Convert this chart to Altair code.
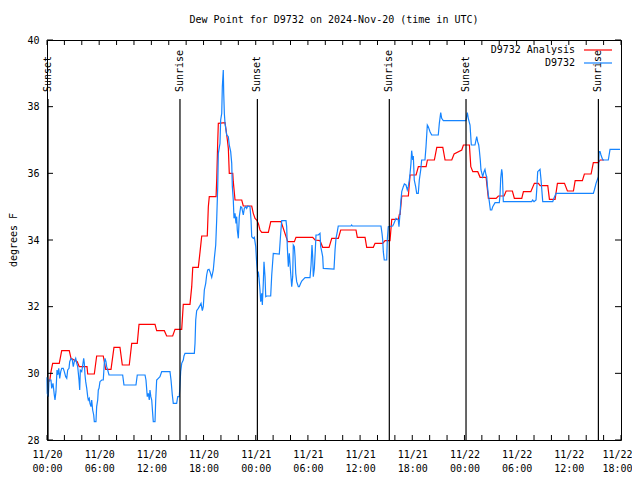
import altair as alt
import pandas as pd

START = pd.Timestamp("2024-11-20T00:00:00Z")
START_MS = int(START.value // 10**6)
H_MS = 3600 * 1000

title_text = "Dew Point for D9732 on 2024-Nov-20 (time in UTC)"
series_names = ["D9732 Analysis", "D9732"]
series_colors = ["#ff0000", "#1584ff"]

# Analysis (red) series: hours since 11/20 00:00 UTC, degrees F
analysis_hours = [0.30, 0.46, 0.65, 1.41, 1.69, 2.56, 2.76, 3.48, 3.71, 4.60, 4.68, 5.44, 5.71, 6.47,
                  6.75, 7.36, 7.70, 8.39, 8.66, 9.46, 9.74, 10.38, 10.58, 12.42, 12.61, 13.49, 13.76,
                  14.45, 14.72, 15.49, 15.67, 16.44, 16.64, 16.76, 17.40, 17.60, 17.79, 18.43, 18.55,
                  18.66, 19.44, 19.52, 19.63, 19.70, 20.47, 20.59, 20.74, 20.85, 20.96, 21.36, 21.42,
                  21.62, 22.39, 22.57, 23.54, 23.72, 23.92, 24.11, 24.30, 24.49, 24.69, 25.45, 25.73,
                  26.91, 27.68, 28.44, 28.63, 30.55, 30.82, 31.39, 31.70, 32.43, 32.74, 33.50, 33.77,
                  35.53, 35.68, 36.57, 36.76, 37.52, 37.72, 38.60, 38.87, 39.44, 39.64, 40.40, 40.52,
                  40.60, 40.79, 41.55, 41.75, 42.44, 42.70, 43.59, 43.74, 44.54, 44.82, 45.51, 45.77,
                  46.54, 46.81, 47.69, 47.88, 48.57, 48.73, 48.96, 49.53, 49.80, 50.49, 50.75, 51.64,
                  51.90, 52.56, 52.79, 53.51, 53.74, 54.59, 54.78, 55.63, 56.04, 56.50, 56.70, 57.58,
                  57.77, 58.42, 58.69, 59.50, 59.84, 60.53, 60.73, 61.56, 61.79, 62.56, 62.82, 63.40,
                  63.59, 64.05]
analysis_values = [29.75, 30.05, 30.3, 30.3, 30.68, 30.68, 30.45, 30.35, 30.2, 30.2, 29.98, 29.98, 30.52, 30.52,
                   30.12, 30.12, 30.78, 30.78, 30.25, 30.25, 30.9, 30.9, 31.47, 31.47, 31.28, 31.28, 31.12,
                   31.12, 31.32, 31.32, 32.07, 32.07, 32.6, 33.18, 33.18, 33.65, 34.12, 34.12, 35.0,
                   35.3, 35.3, 35.85, 36.95, 37.5, 37.52, 37.3, 37.0, 36.75, 36.0, 36.0, 35.75,
                   35.2, 35.2, 35.02, 35.02, 34.8, 34.65, 34.6, 34.5, 34.3, 34.23, 34.23, 34.55,
                   34.55, 33.95, 33.95, 34.08, 34.08, 34.0, 33.98, 33.78, 33.78, 34.05, 34.05, 34.3,
                   34.3, 34.08, 34.08, 33.78, 33.78, 33.9, 33.9, 33.98, 33.98, 34.62, 34.62, 34.77,
                   34.77, 35.32, 35.32, 35.95, 35.95, 36.2, 36.2, 36.4, 36.4, 36.78, 36.78, 36.4,
                   36.4, 36.58, 36.7, 36.85, 36.85, 36.2, 36.05, 36.05, 35.88, 35.88, 35.25, 35.25,
                   35.32, 35.32, 35.47, 35.47, 35.25, 35.25, 35.45, 35.45, 35.7, 35.7, 35.63, 35.63,
                   35.22, 35.22, 35.7, 35.7, 35.47, 35.47, 35.78, 35.78, 35.98, 35.98, 36.32, 36.32,
                   36.4, 36.4]

# Observed (blue) series
obs_hours = [0.00, 0.03, 0.15, 0.23, 0.46, 0.54, 0.69, 0.84, 0.92, 1.03, 1.15, 1.23, 1.35, 1.46, 1.58,
             1.69, 1.87, 1.99, 2.15, 2.27, 2.38, 2.53, 2.61, 2.76, 2.91, 3.02, 3.14, 3.30, 3.42, 3.53,
             3.68, 3.76, 3.83, 3.99, 4.11, 4.22, 4.29, 4.37, 4.45, 4.57, 4.68, 4.75, 4.86, 4.94, 5.06,
             5.14, 5.25, 5.37, 5.44, 5.63, 5.71, 5.83, 5.90, 5.98, 6.09, 6.29, 6.47, 6.59, 6.67, 6.78,
             6.86, 6.98, 7.13, 8.70, 8.85, 10.23, 10.38, 11.27, 11.38, 11.53, 11.65, 11.76, 11.84,
             11.94, 12.04, 12.15, 12.22, 12.42, 12.50, 12.61, 12.80, 12.99, 13.19, 14.14, 14.26,
             14.41, 14.52, 14.91, 15.03, 15.21, 15.29, 15.37, 15.49, 15.67, 15.75, 15.87, 16.94,
             17.02, 17.10, 17.21, 17.40, 17.51, 17.71, 17.86, 17.97, 18.09, 18.25, 18.36, 18.48,
             18.63, 18.74, 18.94, 19.12, 19.24, 19.40, 19.51, 19.63, 19.70, 19.89, 19.97, 20.09,
             20.16, 20.27, 20.32, 20.39, 20.47, 20.66, 20.85, 20.96, 21.12, 21.24, 21.31, 21.42,
             21.50, 21.62, 21.73, 21.81, 21.88, 22.00, 22.11, 22.27, 22.39, 22.57, 22.69, 22.85,
             22.96, 23.08, 23.34, 23.46, 23.54, 23.72, 23.84, 24.00, 24.11, 24.23, 24.30, 24.38,
             24.49, 24.57, 24.69, 24.76, 24.87, 24.95, 25.07, 25.15, 25.26, 25.72, 25.84, 26.02,
             26.71, 26.87, 26.99, 27.48, 27.56, 27.63, 27.75, 27.86, 28.02, 28.14, 28.25, 28.32,
             28.44, 28.52, 28.60, 28.71, 28.90, 29.01, 29.17, 29.29, 29.67, 30.24, 30.36, 30.47,
             30.55, 30.62, 30.74, 30.85, 30.93, 31.19, 31.39, 31.47, 31.59, 31.70, 31.77, 33.00,
             33.12, 33.23, 33.38, 33.49, 34.95, 35.03, 35.11, 38.40, 38.52, 38.60, 38.67, 38.78,
             39.06, 39.13, 39.24, 39.75, 39.90, 40.13, 40.28, 40.39, 40.47, 40.59, 40.67, 40.79,
             40.97, 41.09, 41.28, 41.43, 41.54, 41.66, 41.74, 41.85, 41.93, 42.05, 42.12, 42.23,
             42.39, 42.51, 42.69, 42.81, 42.97, 43.08, 43.46, 43.58, 43.73, 43.84, 44.04, 44.23,
             44.99, 45.11, 45.27, 45.38, 45.57, 48.18, 48.26, 48.33, 48.44, 48.64, 48.79, 49.21,
             49.41, 49.52, 49.64, 49.71, 49.82, 49.90, 50.10, 50.25, 50.36, 50.48, 50.56, 50.63,
             50.75, 50.86, 50.98, 51.14, 51.25, 51.52, 52.01, 52.09, 52.17, 52.28, 52.35, 52.47,
             55.73, 55.84, 56.00, 56.23, 56.31, 56.42, 56.69, 56.80, 57.00, 58.15, 58.29, 58.53,
             62.82, 62.94, 63.13, 63.40, 63.48, 63.59, 63.70, 63.90, 64.54, 64.74, 65.89]
obs_values = [29.88, 29.4, 29.3, 29.8, 29.8, 29.55, 29.7, 29.35, 29.2, 29.45, 30.1, 29.95, 30.15, 29.85, 30.05,
              30.15, 30.15, 30.05, 29.9, 29.85, 30.1, 30.15, 30.35, 30.45, 30.4, 30.2, 30.35, 30.45, 30.3, 30.2,
              29.8, 29.5, 30.1, 30.05, 30.25, 30.45, 30.3, 29.95, 29.75, 29.55, 29.3, 29.2, 29.25, 29.1, 29.0,
              29.2, 28.9, 28.75, 28.55, 28.55, 29.0, 29.2, 29.5, 29.55, 29.75, 29.8, 29.8, 30.3, 30.45, 30.35,
              30.2, 30.1, 29.95, 29.95, 29.65, 29.65, 29.95, 29.95, 29.8, 29.3, 29.4, 29.2, 29.5,
              29.3, 29.2, 28.8, 28.55, 28.55, 29.2, 29.8, 29.85, 29.9, 30.05, 30.05, 29.8,
              29.35, 29.1, 29.1, 29.3, 29.3, 29.65, 30.05, 30.3, 30.4, 30.52, 30.6, 30.6,
              30.9, 31.6, 31.88, 31.95, 32.0, 32.1, 31.88, 32.0, 32.5, 32.7, 32.95, 33.1,
              33.12, 33.05, 32.88, 33.1, 33.45, 33.85, 34.6, 35.6, 36.6, 36.9, 37.6, 37.8,
              38.6, 39.1, 38.4, 37.8, 37.5, 37.15, 37.1, 36.85, 36.65, 36.3, 35.6, 35.2,
              34.65, 34.8, 34.5, 34.7, 34.3, 34.05, 34.7, 35.0, 34.98, 34.75, 34.95, 35.0,
              34.95, 35.02, 35.0, 34.6, 34.1, 34.05, 34.08, 33.8, 33.3, 32.9, 33.05, 32.85,
              32.5, 32.15, 32.4, 32.05, 32.7, 33.35, 32.9, 32.3, 32.32, 32.32, 32.95, 33.6,
              33.58, 34.2, 34.58, 34.58, 34.4, 33.8, 33.2, 33.6, 33.0, 32.6, 32.9, 33.85,
              33.8, 33.5, 33.0, 32.75, 32.6, 32.6, 32.7, 32.77, 32.87, 32.87, 33.25, 33.85,
              33.5, 32.9, 33.15, 33.7, 34.15, 34.15, 34.2, 33.8, 33.65, 33.5, 33.15, 33.13,
              33.7, 34.05, 34.25, 34.42, 34.42, 34.45, 34.42, 34.42, 34.2, 34.0, 33.65, 33.4,
              33.4, 34.02, 34.4, 34.42, 34.5, 34.65, 34.62, 34.6, 34.4, 34.8, 35.1, 35.45,
              35.6, 35.68, 35.65, 35.5, 35.6, 35.8, 35.98, 36.3, 36.68, 36.4, 36.52, 35.8,
              35.6, 35.4, 35.4, 35.8, 36.1, 36.4, 36.4, 36.8, 37.45, 37.4, 37.25, 37.15,
              37.15, 37.5, 37.82, 37.65, 37.58, 37.58, 37.72, 37.82, 37.65, 37.45, 36.85, 36.85,
              37.1, 36.95, 36.85, 36.7, 36.4, 36.1, 35.9, 36.05, 36.12, 35.95, 35.9, 35.65,
              35.35, 35.15, 34.9, 34.9, 35.0, 35.12, 35.12, 35.35, 35.85, 36.12, 36.0, 35.15,
              35.15, 35.2, 35.15, 35.2, 35.5, 36.05, 36.12, 35.82, 35.15, 35.15, 35.25, 35.4,
              35.4, 35.5, 35.7, 35.9, 36.65, 36.65, 36.55, 36.4, 36.4, 36.72, 36.72]

event_labels = ["Sunset", "Sunrise", "Sunset", "Sunrise", "Sunset", "Sunrise"]
event_hours = [0.12, 15.29, 24.19, 39.36, 48.18, 63.40]

y_ticks = [28, 30, 32, 34, 36, 38, 40]
x_label_hours = list(range(0, 67, 6))
x_tick_hours = list(range(0, 67, 2))
x_domain_hours = [0, 66]


def ms(h):
    return START_MS + int(round(h * H_MS))


FONT = "DejaVu Sans Mono"
LAST_MS = ms(x_label_hours[-1])

df_a = pd.DataFrame({"t": [ms(h) for h in analysis_hours], "v": analysis_values})
df_o = pd.DataFrame({"t": [ms(h) for h in obs_hours], "v": obs_values})
df_ev = pd.DataFrame({"t": [ms(h) for h in event_hours], "label": event_labels})
df_xt = pd.DataFrame({"t": [ms(h) for h in x_tick_hours]})
df_yt = pd.DataFrame({"v": y_ticks})

x_scale = alt.Scale(type="utc", domain=[ms(x_domain_hours[0]), ms(x_domain_hours[1])], nice=False)
y_scale = alt.Scale(domain=[28, 40], nice=False, zero=False)

x_axis = alt.Axis(
    values=[ms(h) for h in x_label_hours],
    labelExpr="[utcFormat(datum.value, '%m/%d'), utcFormat(datum.value, '%H:%M')]",
    labelFont=FONT, labelFontSize=10, labelColor="black", labelPadding=9,
    labelLineHeight=14, labelBaseline="top", labelFlush=False, labelOverlap=False,
    labelAlign=alt.condition(f"datum.value >= {LAST_MS}", alt.value("right"), alt.value("center")),
    labelOffset=alt.condition(f"datum.value >= {LAST_MS}", alt.value(11), alt.value(0)),
    ticks=False, tickSize=0, domain=False, grid=False, title=None,
)
y_axis = alt.Axis(
    values=y_ticks, labelFont=FONT, labelFontSize=10, labelColor="black", labelPadding=8,
    labelFlush=False, ticks=False, tickSize=0, domain=False, grid=False, title=None,
)

X = alt.X("t:T", scale=x_scale, axis=x_axis)
Y = alt.Y("v:Q", scale=y_scale, axis=y_axis)
Xn = alt.X("t:T", scale=x_scale)
Yn = alt.Y("v:Q", scale=y_scale)

analysis_line = alt.Chart(df_a).mark_line(color=series_colors[0], strokeWidth=1.2).encode(x=X, y=Y)
obs_line = alt.Chart(df_o).mark_line(color=series_colors[1], strokeWidth=1.2).encode(x=Xn, y=Yn)

ev_rules = alt.Chart(df_ev).mark_rule(color="black", strokeWidth=1.2).encode(
    x=Xn, y=alt.value(400), y2=alt.value(59))
ev_text = alt.Chart(df_ev).mark_text(
    angle=270, align="left", baseline="middle", font=FONT, fontSize=10, color="black"
).encode(x=Xn, y=alt.value(52), text="label:N")

xt_bottom = alt.Chart(df_xt).mark_rule(color="black").encode(
    x=Xn, y=alt.value(400), y2=alt.value(395))
xt_top = alt.Chart(df_xt).mark_rule(color="black").encode(
    x=Xn, y=alt.value(0), y2=alt.value(5))
yt_left = alt.Chart(df_yt).mark_rule(color="black").encode(
    y=Yn, x=alt.value(0), x2=alt.value(6))
yt_right = alt.Chart(df_yt).mark_rule(color="black").encode(
    y=Yn, x=alt.value(574), x2=alt.value(568))

legend_layers = []
for i, (name, col) in enumerate(zip(series_names, series_colors)):
    row_df = pd.DataFrame({"name": [name]})
    ypos = 10 + 13 * i
    legend_layers.append(
        alt.Chart(row_df).mark_text(
            align="right", baseline="middle", font=FONT, fontSize=10, color="black"
        ).encode(text="name:N", x=alt.value(528), y=alt.value(ypos))
    )
    legend_layers.append(
        alt.Chart(row_df).mark_rule(color=col, strokeWidth=1.2).encode(
            x=alt.value(537), x2=alt.value(565), y=alt.value(ypos))
    )

title_df = pd.DataFrame({"text": [title_text]})
title_mark = alt.Chart(title_df).mark_text(
    align="center", baseline="middle", font=FONT, fontSize=10, color="black"
).encode(text="text:N", x=alt.value(287), y=alt.value(-20))

ylab_df = pd.DataFrame({"text": ["degrees F"]})
ylab_mark = alt.Chart(ylab_df).mark_text(
    align="center", baseline="middle", font=FONT, fontSize=10, color="black", angle=270
).encode(text="text:N", x=alt.value(-33), y=alt.value(200))

chart = alt.layer(
    analysis_line, obs_line, ev_rules, ev_text, xt_bottom, xt_top, yt_left, yt_right,
    *legend_layers, title_mark, ylab_mark,
).properties(
    width=574, height=400,
    autosize=alt.AutoSizeParams(type="none"),
    padding={"left": 39, "top": 32, "right": 11, "bottom": 32},
    background="white",
).configure_view(stroke="black", strokeWidth=1)

chart.save("out.html", embed_options={"renderer": "svg", "actions": False})
